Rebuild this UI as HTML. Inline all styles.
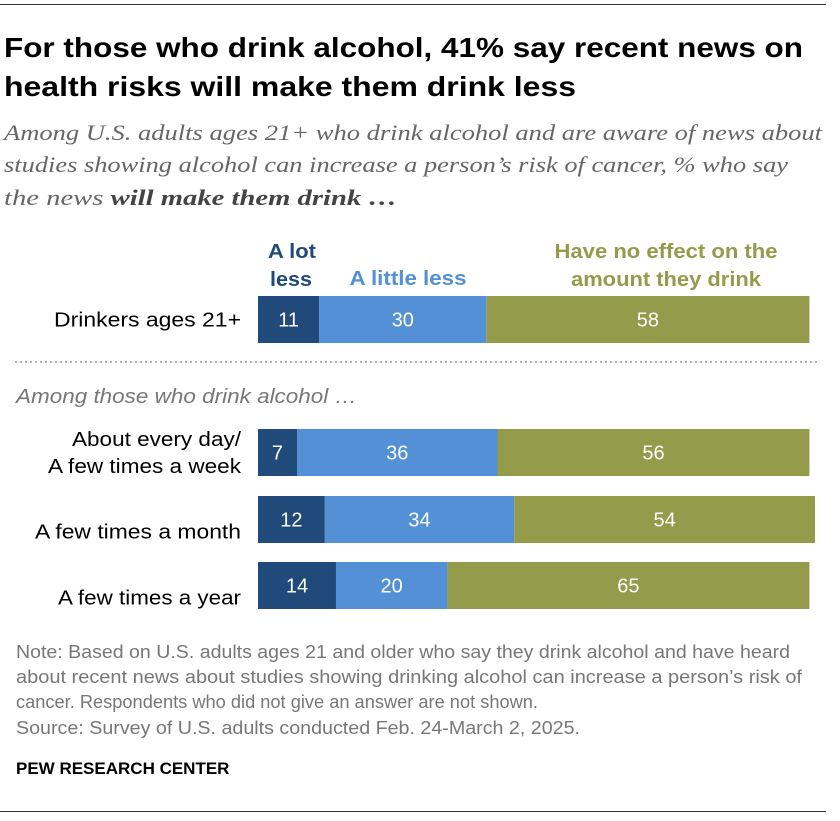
<!DOCTYPE html>
<html><head><meta charset="utf-8"><style>
body{margin:0;width:840px;height:816px;background:#fff;font-family:"Liberation Sans",sans-serif;overflow:hidden}
</style></head><body>
<svg width="840" height="816" xmlns="http://www.w3.org/2000/svg" id="chart">
<line x1="0" y1="4.5" x2="826" y2="4.5" stroke="#333" stroke-width="1"/>
<text x="4" y="57" font-size="28" font-weight="bold" fill="#000" textLength="799" lengthAdjust="spacingAndGlyphs">For those who drink alcohol, 41% say recent news on</text>
<text x="4" y="96" font-size="28" font-weight="bold" fill="#000" textLength="572" lengthAdjust="spacingAndGlyphs">health risks will make them drink less</text>
<g font-family="Liberation Serif,serif" font-style="italic" font-size="22" fill="#666">
<text x="4" y="140" textLength="818" lengthAdjust="spacingAndGlyphs">Among U.S. adults ages 21+ who drink alcohol and are aware of news about</text>
<text x="4" y="172" textLength="784" lengthAdjust="spacingAndGlyphs">studies showing alcohol can increase a person’s risk of cancer, % who say</text>
<text x="4" y="205" textLength="393" lengthAdjust="spacingAndGlyphs">the news <tspan font-weight="bold" fill="#444">will make them drink …</tspan></text>
</g>
<g font-weight="bold" font-size="20" text-anchor="middle">
<text x="292" y="258" fill="#1f4a7a" textLength="48" lengthAdjust="spacingAndGlyphs">A lot</text>
<text x="291" y="286" fill="#1f4a7a" textLength="42" lengthAdjust="spacingAndGlyphs">less</text>
<text x="408" y="285" fill="#5390d6" textLength="117" lengthAdjust="spacingAndGlyphs">A little less</text>
<text x="666" y="258" fill="#949b4a" textLength="223" lengthAdjust="spacingAndGlyphs">Have no effect on the</text>
<text x="666" y="286" fill="#949b4a" textLength="190" lengthAdjust="spacingAndGlyphs">amount they drink</text>
</g>
<line x1="15" y1="362" x2="820" y2="362" stroke="#999" stroke-width="1.5" stroke-dasharray="2,3"/>
<text x="16" y="403" font-size="20" font-style="italic" fill="#777" textLength="341" lengthAdjust="spacingAndGlyphs">Among those who drink alcohol …</text>
<g id="bars"></g>
<g font-size="18" fill="#777">
<text x="16" y="658" textLength="774" lengthAdjust="spacingAndGlyphs">Note: Based on U.S. adults ages 21 and older who say they drink alcohol and have heard</text>
<text x="16" y="683" textLength="786" lengthAdjust="spacingAndGlyphs">about recent news about studies showing drinking alcohol can increase a person’s risk of</text>
<text x="16" y="708" textLength="522" lengthAdjust="spacingAndGlyphs">cancer. Respondents who did not give an answer are not shown.</text>
<text x="16" y="734" textLength="564" lengthAdjust="spacingAndGlyphs">Source: Survey of U.S. adults conducted Feb. 24-March 2, 2025.</text>
</g>
<text x="16" y="774" font-size="17" font-weight="bold" fill="#000">PEW RESEARCH CENTER</text>
<line x1="0" y1="811.5" x2="826" y2="811.5" stroke="#333" stroke-width="1"/>
</svg>
<script>
const categories=[["Drinkers ages 21+"],["About every day/","A few times a week"],["A few times a month"],["A few times a year"]];
const aLotLess=[11,7,12,14];
const aLittleLess=[30,36,34,20];
const noEffect=[58,56,54,65];
const NS="http://www.w3.org/2000/svg";
const x0=258,scale=5.57,barH=47;
const rowY=[296,429,496,562];
const colors=["#1f4a7a","#5390d6","#949b4a"];
const labelStyleWidths={"Drinkers ages 21+":187,"About every day/":169,"A few times a week":193,"A few times a month":206,"A few times a year":183};
const g=document.getElementById("bars");
function xs(v){return v*scale;}
categories.forEach((cat,i)=>{
  const vals=[aLotLess[i],aLittleLess[i],noEffect[i]];
  let x=x0;const y=rowY[i];
  vals.forEach((v,j)=>{
    const r=document.createElementNS(NS,"rect");
    r.setAttribute("x",x);r.setAttribute("y",y);r.setAttribute("width",xs(v));r.setAttribute("height",barH);r.setAttribute("fill",colors[j]);
    
    
    g.appendChild(r);
    const t=document.createElementNS(NS,"text");
    t.setAttribute("x",x+xs(v)/2);t.setAttribute("y",y+barH/2+7);t.setAttribute("text-anchor","middle");t.setAttribute("fill","#fff");t.setAttribute("font-size","20");
    t.textContent=v;
    
    
    g.appendChild(t);
    x+=xs(v);
  });
  cat.forEach((line,k)=>{
    const t=document.createElementNS(NS,"text");
    const n=cat.length;
    t.setAttribute("x",241);t.setAttribute("text-anchor","end");t.setAttribute("font-size","20");t.setAttribute("fill","#000");
    if(labelStyleWidths[line]){t.setAttribute("textLength",labelStyleWidths[line]);t.setAttribute("lengthAdjust","spacingAndGlyphs");}
    t.setAttribute("y",y+barH/2+7+(k-(n-1)/2)*27+(n===1&&i>0?12:0));
    t.textContent=line;
    
    
    g.appendChild(t);
  });
});
</script>
</body></html>
